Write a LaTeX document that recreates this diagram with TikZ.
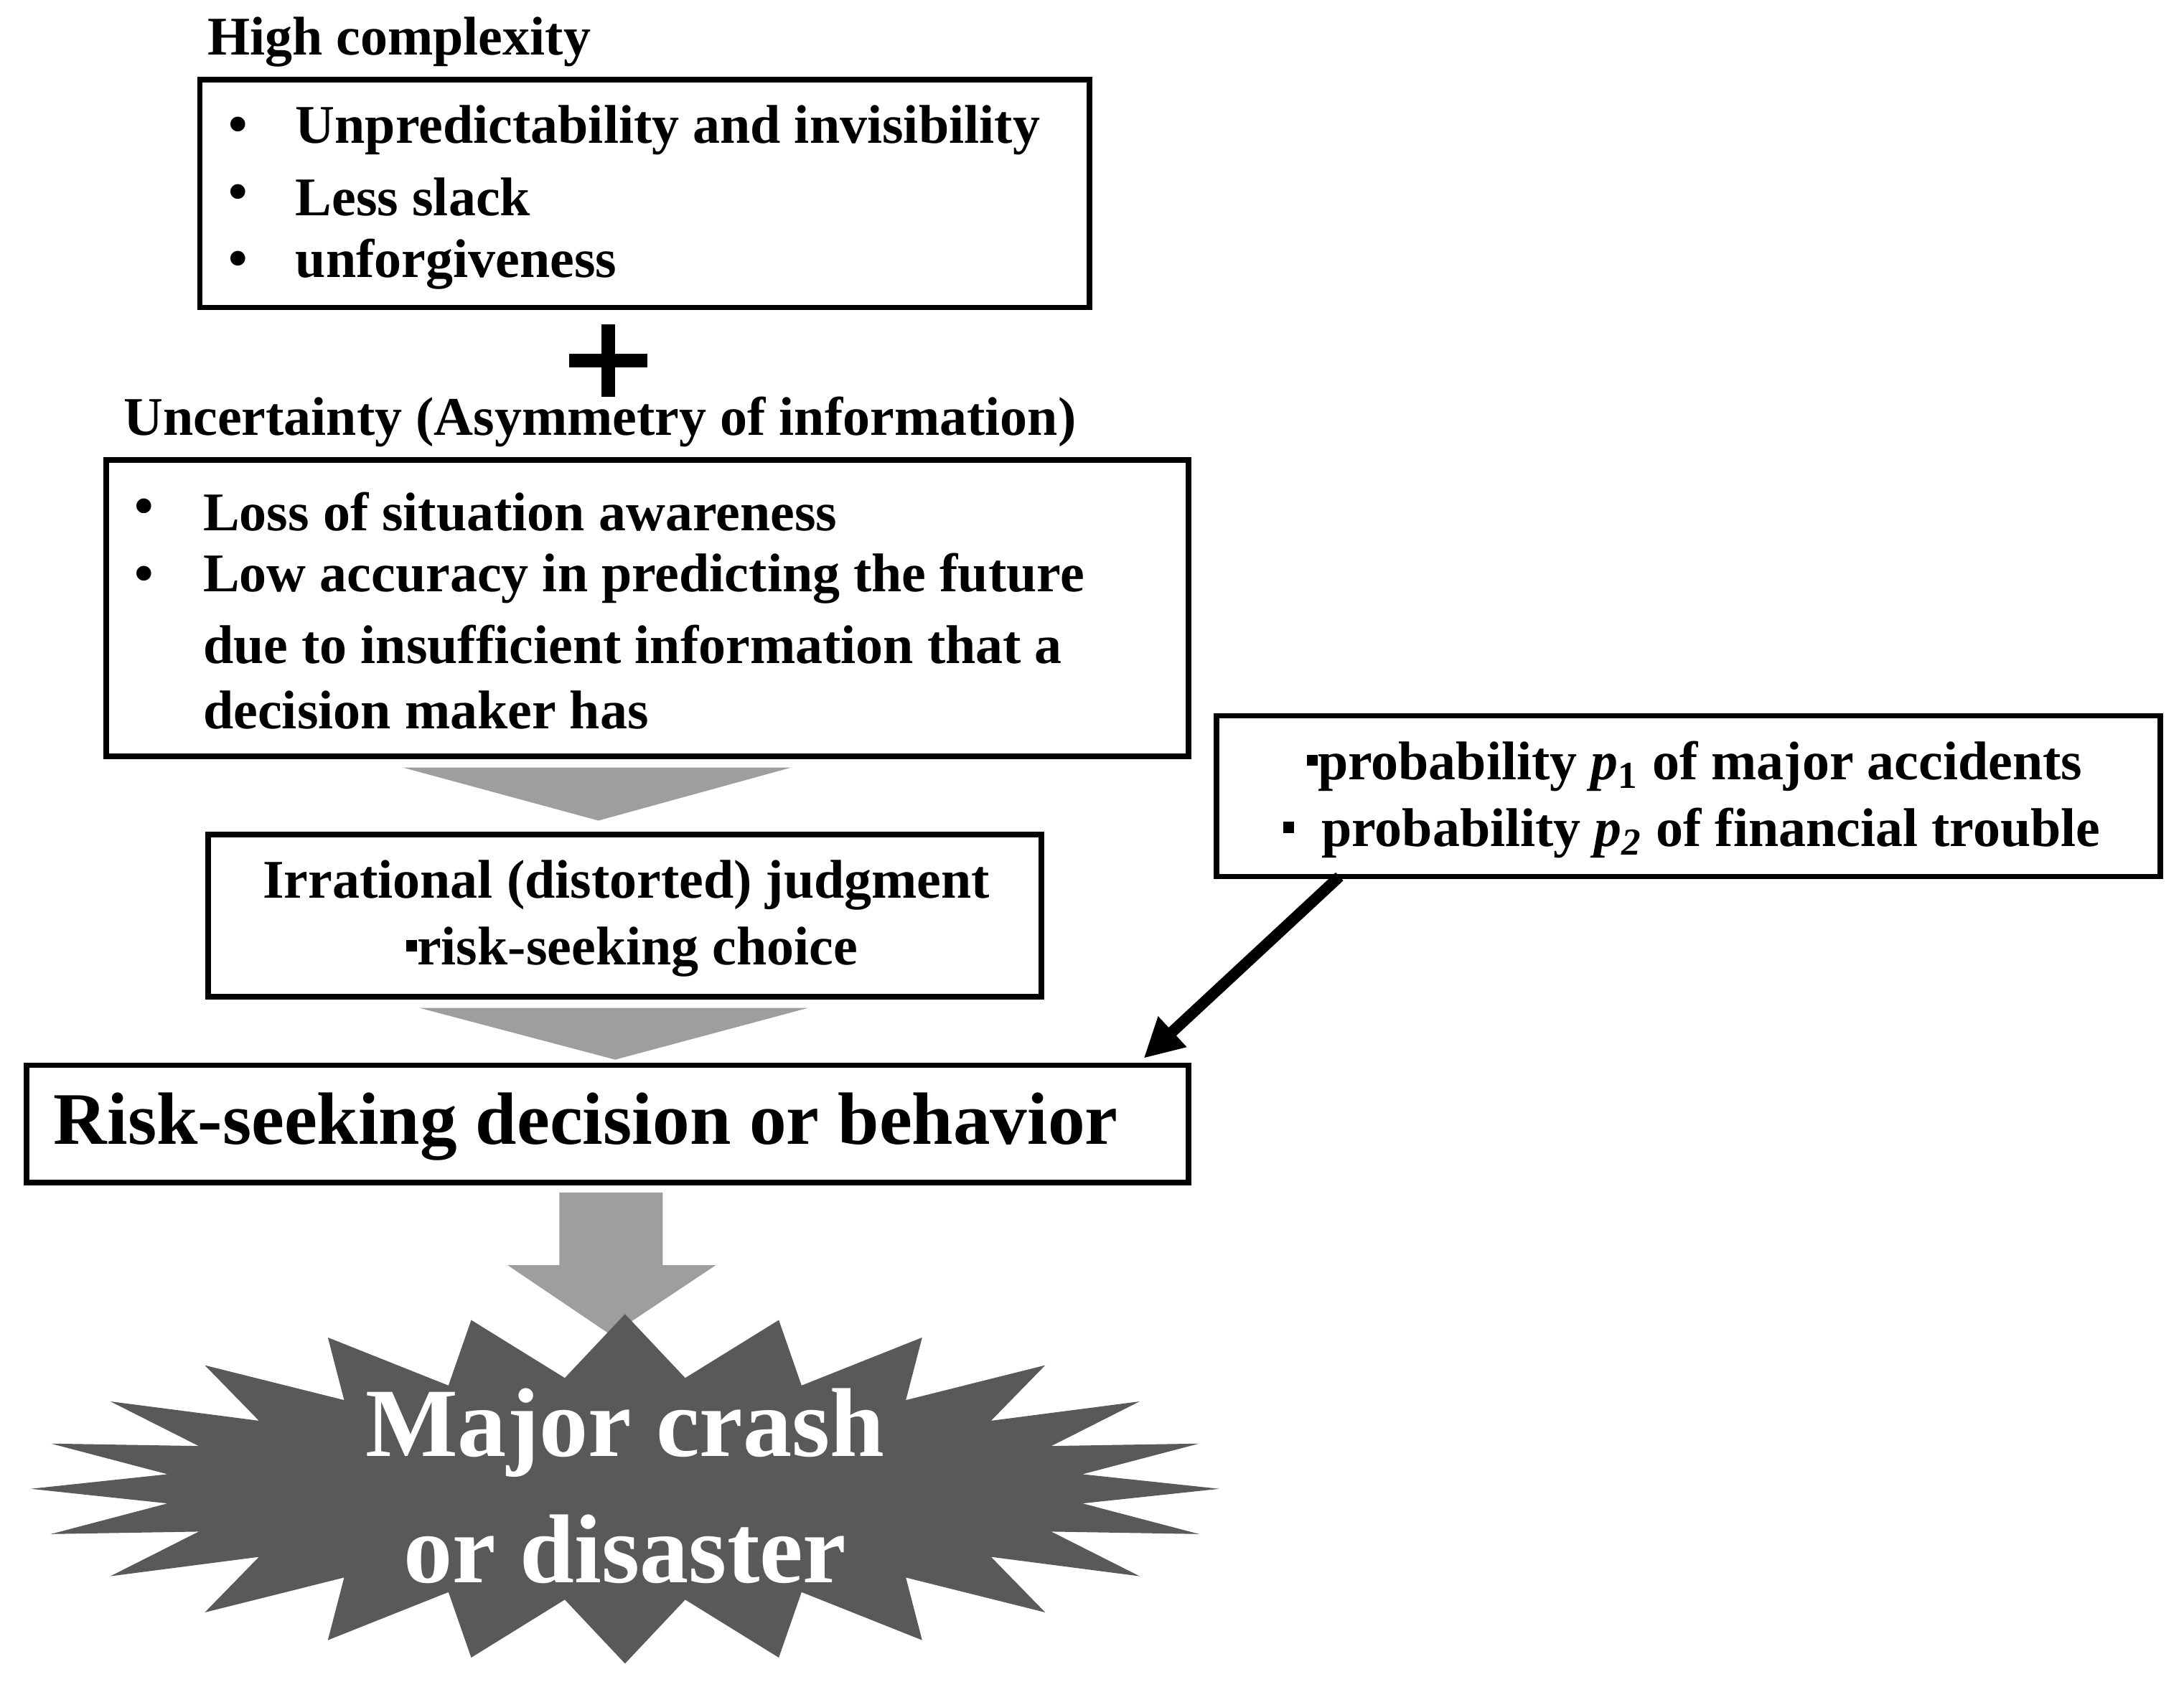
\documentclass[tikz,border=0pt]{standalone}
\usepackage{fontspec}
\setmainfont{Liberation Serif}
\usetikzlibrary{arrows.meta}
\begin{document}
\begin{tikzpicture}[x=0.5pt,y=-0.5pt,
  box/.style={draw=black,line width=2pt},
  t/.style={font=\fontsize{19.5}{22}\selectfont\bfseries,anchor=west,inner sep=0pt},
  tc/.style={font=\fontsize{19.5}{22}\selectfont\bfseries,inner sep=0pt},
  gr/.style={fill=black!38,draw=none}]
\useasboundingbox (0,0) rectangle (1562,1203);
\node[t] (h1) at (148,30) {High complexity};
\draw[box] (143,57) rectangle (779,220);
\foreach \y/\s [count=\i] in {93/Unpredictability and invisibility,141/Less slack,189/unforgiveness}{
  \node[t] (b1\i) at (163,\y) {\textbullet};
  \node[t] (l1\i) at (211,\y) {\s};}
\draw[line width=5pt] (407,258) -- (463,258) (435,232) -- (435,284);
\node[t] (h2) at (88,302) {Uncertainty (Asymmetry of information)};
\draw[box] (76,329) rectangle (850,541);
\node[t] (b21) at (96,366) {\textbullet};
\node[t] (b22) at (96,414) {\textbullet};
\node[t] (l21) at (145,366) {Loss of situation awareness};
\node[t] (l22) at (145,414) {Low accuracy in predicting the future};
\node[t] (l23) at (145,461) {due to insufficient information that a};
\node[t] (l24) at (145,508) {decision maker has};
\fill[gr] (288,549) -- (566,549) -- (428,587) -- cycle;
\draw[box] (149,597) rectangle (745,713);
\node[tc] (j1) at (448,633) {Irrational (distorted) judgment};
\node[tc] (j2) at (452,681) {\rule[0.25em]{0.2em}{0.2em}risk-seeking choice};
\fill[gr] (300,721) -- (578,721) -- (440,758) -- cycle;
\draw[box] (19,762) rectangle (850,846);
\node[t,font=\fontsize{26.5}{29}\selectfont\bfseries] (r) at (38,806) {Risk-seeking decision or behavior};
\draw[box] (870,512) rectangle (1545,627);
\node[tc] (p1) at (1212,548) {\rule[0.25em]{0.2em}{0.2em}probability \textit{p}\textsubscript{1} of major accidents};
\node[tc] (p2) at (1210,596) {\rule[0.25em]{0.2em}{0.2em}\ \ probability \textit{p\textsubscript{2}} of financial trouble};
\coordinate (as) at (958,627);
\coordinate (ae) at (818,757);
\draw[line width=4pt,-{Triangle[length=14pt,width=14pt]}] (as) -- (ae);
\fill[gr] (400,853) -- (474,853) -- (474,905) -- (512,905) -- (437,955) -- (363,905) -- (400,905) -- cycle;
\fill[black!65] plot[samples=49,domain=0:48] ({447+(425-95*mod(round(\x),2))*cos(\x*7.5)},{1065+(125-45*mod(round(\x),2))*sin(\x*7.5)}) -- cycle;
\node[tc,text=white,font=\fontsize{35}{38}\selectfont\bfseries] (m1) at (447,1025) {Major crash};
\node[tc,text=white,font=\fontsize{35}{38}\selectfont\bfseries] (m2) at (447,1108) {or disaster};
\end{tikzpicture}
\end{document}
